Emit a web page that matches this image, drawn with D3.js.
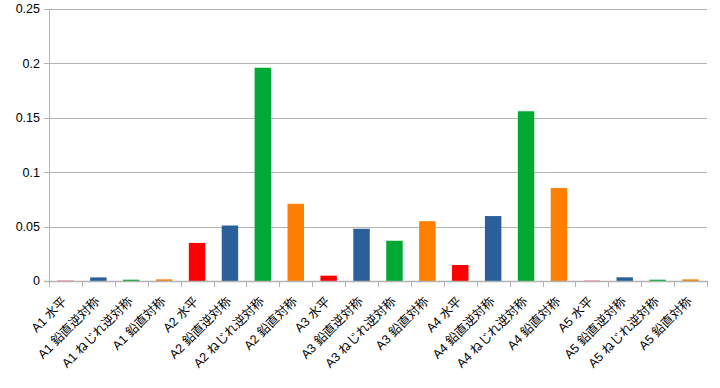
<!DOCTYPE html>
<html>
<head>
<meta charset="utf-8">
<script src="https://cdn.jsdelivr.net/npm/d3@7"></script>
<style>
  body { margin: 0; background: #fff; }
  text { font-family: "Liberation Sans", "Noto Sans CJK JP", sans-serif; }
</style>
</head>
<body>
<script>
"use strict";
(function(){
    const groups = ["A1", "A2", "A3", "A4", "A5"]
    const modes = ["水平", "鉛直逆対称", "ねじれ逆対称", "鉛直対称"]
    const modeColors = ["#ff0000", "#2a6099", "#00a933", "#ff8000"]
    // one value per group, in the order of modes
    const values = [
        0.0003, 0.0033, 0.0012, 0.0015,
        0.035, 0.051, 0.196, 0.071,
        0.0049, 0.048, 0.037, 0.055,
        0.0147, 0.0597, 0.156, 0.0855,
        0.0003, 0.0034, 0.0012, 0.0015
    ]
    const yTicks = [0, 0.05, 0.1, 0.15, 0.2, 0.25]

    const measurements = {
        width: 720,
        height: 388,
        left: 49,
        right: 707,
        top: 9,
        bottom: 281
    }

    let data = []
    groups.forEach((g, gi) => {
        modes.forEach((m, mi) => {
            data.push({ label: g + " " + m, value: values[gi * modes.length + mi], mode: mi })
        })
    })

    const svg = d3.select("body").append("svg")
        .attr("width", measurements.width)
        .attr("height", measurements.height)

    let scaleX = d3.scaleBand()
        .domain(data.map(d => d.label))
        .range([measurements.left, measurements.right])
        .paddingInner(0.5)
        .paddingOuter(0.25)

    let scaleY = d3.scaleLinear()
        .domain([0, 0.25])
        .range([measurements.bottom, measurements.top])

    // gridlines
    svg.append("g")
        .selectAll("line")
        .data(yTicks)
        .enter()
        .append("line")
            .attr("x1", measurements.left - 5)
            .attr("x2", measurements.right)
            .attr("y1", d => Math.round(scaleY(d)) + 0.5)
            .attr("y2", d => Math.round(scaleY(d)) + 0.5)
            .attr("stroke", "#b3b3b3")
            .attr("stroke-width", 1)

    // y labels
    svg.append("g")
        .selectAll("text")
        .data(yTicks)
        .enter()
        .append("text")
            .attr("x", measurements.left - 9)
            .attr("y", d => scaleY(d))
            .attr("dy", "0.35em")
            .attr("text-anchor", "end")
            .attr("font-size", 12.5)
            .attr("fill", "#000")
            .text(d => d)

    // bars
    svg.append("g")
        .selectAll("rect")
        .data(data)
        .enter()
        .append("rect")
            .attr("x", d => scaleX(d.label))
            .attr("width", scaleX.bandwidth())
            .attr("y", d => scaleY(d.value))
            .attr("height", d => scaleY(0) - scaleY(d.value))
            .attr("fill", d => modeColors[d.mode])

    // axis lines
    const step = scaleX.step()
    svg.append("line")
        .attr("x1", measurements.left + 0.5).attr("x2", measurements.left + 0.5)
        .attr("y1", measurements.top).attr("y2", measurements.bottom + 5)
        .attr("stroke", "#b3b3b3")
    svg.append("line")
        .attr("x1", measurements.left - 5).attr("x2", measurements.right + 0.5)
        .attr("y1", measurements.bottom + 0.5).attr("y2", measurements.bottom + 0.5)
        .attr("stroke", "#b3b3b3")
        .attr("stroke-width", 1.5)

    // x ticks at category boundaries
    svg.append("g")
        .selectAll("line")
        .data(d3.range(data.length + 1))
        .enter()
        .append("line")
            .attr("x1", i => Math.round(measurements.left + i * step) + 0.5)
            .attr("x2", i => Math.round(measurements.left + i * step) + 0.5)
            .attr("y1", measurements.bottom)
            .attr("y2", measurements.bottom + 6)
            .attr("stroke", "#b3b3b3")

    // x labels
    svg.append("g")
        .selectAll("text")
        .data(data)
        .enter()
        .append("text")
            .attr("transform", d => {
                const cx = scaleX(d.label) + scaleX.bandwidth() / 2 - 1
                return "translate(" + cx + "," + (measurements.bottom + 18) + ") rotate(-45)"
            })
            .attr("text-anchor", "end")
            .attr("dy", "0.35em")
            .attr("font-size", 12.5)
            .attr("fill", "#000")
            .text(d => d.label)
})()
</script>
</body>
</html>
